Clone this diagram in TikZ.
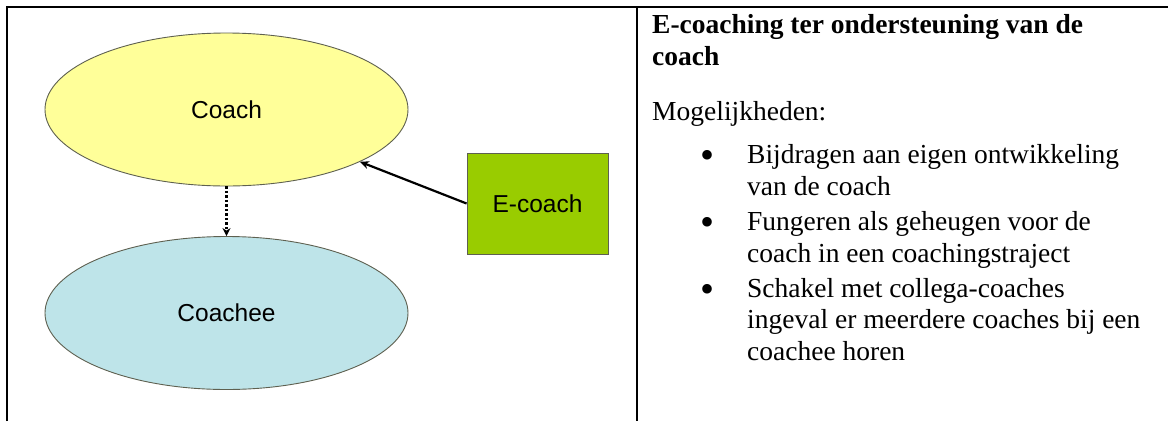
\documentclass[tikz,border=0pt]{standalone}
\usepackage{fontspec}
\setmainfont{Liberation Serif}
\newfontfamily\labelfont{Liberation Sans}
\usetikzlibrary{shapes.geometric,arrows.meta}

\definecolor{coachfill}{HTML}{FFFF99}
\definecolor{coacheefill}{HTML}{BEE4E9}
\definecolor{ecoachfill}{HTML}{99CC00}
\definecolor{shapeline}{HTML}{5E6050}

\tikzset{
  bubble/.style={ellipse, draw=shapeline, line width=0.9pt, inner sep=0pt,
                 minimum width=363pt, minimum height=153pt,
                 font=\labelfont\fontsize{24.5pt}{28pt}\selectfont},
  agentbox/.style={rectangle, draw=shapeline, line width=0.9pt, fill=ecoachfill,
                   inner sep=0pt, minimum width=141pt, minimum height=101pt,
                   font=\labelfont\fontsize{24.5pt}{28pt}\selectfont},
  feeds/.style={line width=2.2pt, -{Stealth[length=9pt,width=8pt]}},
  passes/.style={line width=2.6pt, dash pattern=on 2.5pt off 2pt,
                 -{Stealth[length=8pt,width=8pt]}},
  frame/.style={line width=1.6pt},
  txt/.style={anchor=base west, inner sep=0pt,
              font=\fontsize{27.5pt}{32pt}\selectfont},
  hdr/.style={txt, font=\fontsize{27.5pt}{32pt}\selectfont\bfseries},
  dot/.style={anchor=base, inner sep=0pt, font=\fontsize{40pt}{40pt}\selectfont}
}

\begin{document}
\begin{tikzpicture}[x=1pt,y=-1pt]
  \useasboundingbox (0,0) rectangle (1168,421);

  % table rules
  \draw[frame] (7,421) -- (7,7) -- (1168,7);
  \draw[frame] (637,7) -- (637,421);

  % diagram
  \node[bubble, fill=coachfill]   (coach)   at (226.5,109.5) {\raisebox{-2pt}{Coach}};
  \node[bubble, fill=coacheefill] (coachee) at (226.5,313)   {Coachee};
  \node[agentbox]                 (ecoach)  at (537.5,203.5) {E-coach};

  \draw[feeds]  (ecoach.west) -- (coach);
  \draw[passes] (coach.south) -- (coachee.north);

  % description
  \node[hdr] (h1) at (652,33) {E-coaching ter ondersteuning van de};
  \node[hdr] (h2) at (652,65) {coach};
  \node[txt] (m)  at (652,120) {Mogelijkheden:};

  \node[dot] (b1) at (707,168) {\textbullet};
  \node[txt] (i1a) at (747,163) {Bijdragen aan eigen ontwikkeling};
  \node[txt] (i1b) at (747,195) {van de coach};

  \node[dot] (b2) at (707,235) {\textbullet};
  \node[txt] (i2a) at (747,230) {Fungeren als geheugen voor de};
  \node[txt] (i2b) at (747,262) {coach in een coachingstraject};

  \node[dot] (b3) at (707,302) {\textbullet};
  \node[txt] (i3a) at (747,297) {Schakel met collega-coaches};
  \node[txt] (i3b) at (747,328) {ingeval er meerdere coaches bij een};
  \node[txt] (i3c) at (747,360) {coachee horen};
\end{tikzpicture}
\end{document}
